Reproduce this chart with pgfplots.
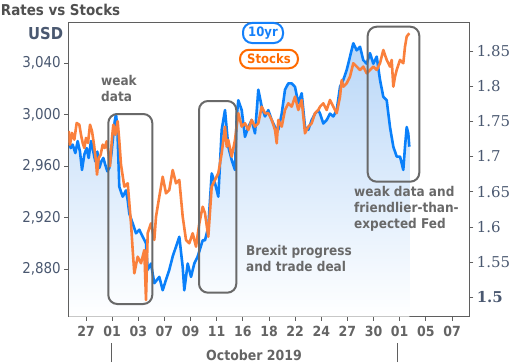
\documentclass[border=0pt]{standalone}
\usepackage{fontspec}
\setmainfont{DejaVu Sans Condensed}
\newfontfamily\serf{DejaVu Serif}
\usepackage{pgfplots}
\pgfplotsset{compat=1.18}
\usepackage{pgfplotstable}
\definecolor{ser1}{RGB}{10,128,250}
\definecolor{ser2}{RGB}{250,128,60}
\definecolor{fillb}{RGB}{185,215,248}
\definecolor{frame}{RGB}{95,95,95}
\definecolor{boxg}{RGB}{105,105,105}
\definecolor{tgray}{RGB}{100,100,100}
\definecolor{titleg}{RGB}{80,80,80}
\definecolor{tickl}{RGB}{74,88,112}
\definecolor{legb}{RGB}{20,128,250}
\definecolor{lego}{RGB}{255,106,0}

\pgfplotstableread{
x y
-0.663 1.726
-0.587 1.712
-0.510 1.717
-0.408 1.705
-0.319 1.722
-0.230 1.707
-0.153 1.681
-0.064 1.703
0.026 1.712
0.102 1.698
0.191 1.722
0.280 1.707
0.357 1.693
0.433 1.707
0.510 1.684
0.586 1.693
0.663 1.698
0.739 1.688
0.816 1.679
0.892 1.684
0.969 1.703
1.045 1.731
1.097 1.750
1.148 1.760
1.199 1.741
1.250 1.684
1.274 1.657
1.404 1.643
1.530 1.652
1.595 1.638
1.656 1.619
1.786 1.605
1.913 1.591
2.039 1.596
2.169 1.586
2.295 1.577
2.360 1.539
2.486 1.548
2.613 1.520
2.804 1.529
2.934 1.510
3.060 1.525
3.186 1.539
3.316 1.558
3.443 1.572
3.569 1.586
3.699 1.543
3.760 1.510
3.890 1.548
4.017 1.529
4.143 1.548
4.273 1.558
4.464 1.581
4.552 1.581
4.678 1.600
4.808 1.676
4.934 1.662
5.061 1.643
5.191 1.738
5.317 1.766
5.443 1.714
5.573 1.695
5.699 1.681
5.764 1.757
5.826 1.780
5.956 1.766
6.082 1.728
6.208 1.742
6.338 1.752
6.465 1.733
6.591 1.795
6.721 1.771
6.847 1.757
6.973 1.766
7.103 1.752
7.230 1.742
7.356 1.738
7.486 1.761
7.612 1.795
7.738 1.804
7.868 1.804
7.995 1.799
8.121 1.776
8.251 1.790
8.377 1.742
8.503 1.738
8.633 1.752
8.760 1.761
8.886 1.766
8.951 1.761
9.077 1.747
9.207 1.752
9.333 1.761
9.460 1.757
9.590 1.766
9.716 1.799
9.842 1.809
9.972 1.823
10.098 1.842
10.225 1.861
10.355 1.851
10.481 1.856
10.607 1.837
10.737 1.832
10.863 1.847
10.990 1.832
11.120 1.842
11.246 1.809
11.372 1.785
11.502 1.780
11.628 1.742
11.755 1.714
11.885 1.700
12.011 1.700
12.137 1.681
12.202 1.714
12.267 1.742
12.328 1.733
12.367 1.714
}\tenyr

\pgfplotstableread{
x y
-0.663 2987.4
-0.612 2976.8
-0.536 2985.9
-0.446 2980.7
-0.357 2993.6
-0.255 2992.3
-0.191 2984.5
-0.127 2978.1
-0.064 2974.2
0.000 2982.0
0.077 2978.1
0.153 2992.3
0.230 2987.2
0.306 2976.8
0.383 2963.9
0.421 2953.5
0.485 2966.4
0.561 2969.0
0.638 2976.8
0.714 2974.2
0.791 2979.4
0.867 2969.0
0.918 2960.0
0.995 2982.0
1.045 2992.3
1.122 2984.5
1.211 2995.0
1.275 2979.4
1.339 2961.2
1.465 2944.2
1.595 2946.8
1.721 2915.7
1.786 2895.0
1.848 2876.9
1.978 2889.8
2.104 2884.7
2.230 2895.0
2.295 2856.2
2.360 2908.0
2.486 2915.7
2.613 2902.8
2.678 2920.9
2.804 2936.4
2.934 2951.9
3.060 2939.0
3.186 2941.6
3.316 2957.1
3.443 2946.8
3.569 2949.4
3.699 2920.9
3.825 2902.8
3.951 2900.2
4.081 2908.0
4.208 2897.6
4.334 2915.7
4.464 2928.6
4.552 2923.5
4.678 2905.3
4.808 2944.2
4.934 2949.4
5.061 2954.6
5.191 2970.1
5.317 2990.8
5.382 2975.2
5.443 2980.4
5.573 2967.5
5.699 2980.4
5.826 3001.2
5.956 2990.8
6.082 2993.4
6.208 2988.2
6.338 2996.0
6.465 2990.8
6.591 2993.4
6.721 3006.3
6.847 3001.2
6.973 3001.2
7.103 2996.0
7.230 2988.2
7.295 2977.9
7.356 2996.0
7.486 2990.8
7.612 3003.7
7.738 3008.9
7.868 3006.3
7.995 3014.1
8.121 3003.7
8.251 3011.5
8.377 2985.6
8.503 2990.8
8.633 2993.4
8.760 3001.2
8.886 3003.7
8.951 3006.3
9.077 3008.9
9.207 3003.7
9.333 3011.5
9.460 3006.3
9.590 3001.2
9.716 3014.1
9.781 3027.0
9.842 3021.8
9.972 3024.5
10.098 3029.6
10.225 3040.0
10.355 3037.4
10.481 3034.8
10.607 3037.4
10.737 3032.2
10.863 3034.8
10.990 3037.4
11.120 3034.8
11.246 3040.0
11.372 3050.3
11.502 3042.6
11.628 3037.4
11.693 3042.6
11.755 3021.8
11.820 3029.6
11.885 3034.8
12.011 3042.6
12.137 3040.0
12.202 3052.9
12.267 3060.7
12.367 3063.3
}\stocks

\begin{document}
\begin{tikzpicture}[x=1bp,y=1bp]
\path[use as bounding box] (0,0) rectangle (514,362);
\begin{axis}[at={(68.3bp,45.3bp)}, anchor=south west, scale only axis,
  width=401bp, height=294.4bp,
  xmin=-0.677, xmax=14.662, ymin=1.4724, ymax=1.8908,
  axis line style={frame, line width=0.9bp},
  xtick={0,...,14},
  xticklabels={27,01,03,07,09,11,16,18,22,24,27,30,01,05,07},
  xtick pos=lower, ytick pos=upper, yticklabel pos=upper,
  ytick={1.5,1.55,1.6,1.65,1.7,1.75,1.8,1.85},
  yticklabels={\textbf{1.5},1.55,1.6,1.65,1.7,1.75,1.8,1.85},
  tick align=outside, major tick length=4bp,
  tick style={frame, line width=0.8bp},
  x tick label style={font=\bfseries\fontsize{14}{14}\selectfont, text=tgray, yshift=-2bp},
  y tick label style={font=\serf\fontsize{15}{15}\selectfont, text=tickl},
]
 \addplot[draw=none, top color=fillb, bottom color=white] table {\tenyr}
   -- (axis cs:12.367,1.4724) -- (axis cs:-0.663,1.4724) -- cycle;
 \addplot[ser1, line width=2.6bp, line join=round] table {\tenyr};
\end{axis}
\begin{axis}[at={(68.3bp,45.3bp)}, anchor=south west, scale only axis,
  width=401bp, height=294.4bp,
  xmin=-0.677, xmax=14.662, ymin=2843.2, ymax=3071.8,
  hide x axis, axis y line*=left,
  axis line style={frame, line width=0.9bp},
  ytick={2880,2920,2960,3000,3040},
  yticklabels={{2,880},{2,920},{2,960},{3,000},{3,040}},
  tick align=outside, major tick length=4bp,
  tick style={frame, line width=0.8bp},
  y tick label style={font=\fontsize{15}{15}\selectfont, text=tickl},
]
 \addplot[ser2, line width=2.6bp, line join=round] table {\stocks};
\end{axis}
% title and unit
\node[anchor=base west, inner sep=0, font=\bfseries\fontsize{15}{15}\selectfont, text=titleg] at (0.7,347) {Rates vs Stocks};
\node[anchor=base east, inner sep=0, font=\bfseries\fontsize{16.5}{16.5}\selectfont, text=tickl] at (63.3,322.7) {USD};
% x axis second level
\node[anchor=base, inner sep=0, font=\bfseries\fontsize{14}{14}\selectfont, text=tgray] at (254,2) {October 2019};
\draw[frame, line width=0.8bp] (111,0) -- (111,19);
\draw[frame, line width=0.8bp] (397,0) -- (397,19);
% legend
\node[draw=legb, line width=2bp, rounded corners=9bp, fill=white, minimum width=40bp, minimum height=20bp, inner sep=0,
  font=\bfseries\fontsize{13}{13}\selectfont, text=legb] at (263,329) {10yr};
\node[draw=lego, line width=2bp, rounded corners=9bp, fill=white, minimum width=58bp, minimum height=18.5bp, inner sep=0,
  font=\bfseries\fontsize{13}{13}\selectfont, text=lego] at (269,303) {Stocks};
% annotation boxes
\draw[boxg, line width=2bp, rounded corners=9bp] (108.3,58) rectangle (152.3,248);
\draw[boxg, line width=2bp, rounded corners=9bp] (199,69.3) rectangle (236.3,261);
\draw[boxg, line width=2bp, rounded corners=9bp] (367.7,180.3) rectangle (419.3,335.3);
% annotation text
\begin{scope}[every node/.style={anchor=base west, inner sep=0, font=\bfseries\fontsize{13.5}{13.5}\selectfont, text=boxg}]
\node at (101,277) {weak};
\node at (101,261) {data};
\node at (246,106.3) {Brexit progress};
\node at (246,91) {and trade deal};
\node at (354,165.3) {weak data and};
\node at (354,149.3) {friendlier-than-};
\node at (354,133.7) {expected Fed};
\end{scope}
\end{tikzpicture}
\end{document}
